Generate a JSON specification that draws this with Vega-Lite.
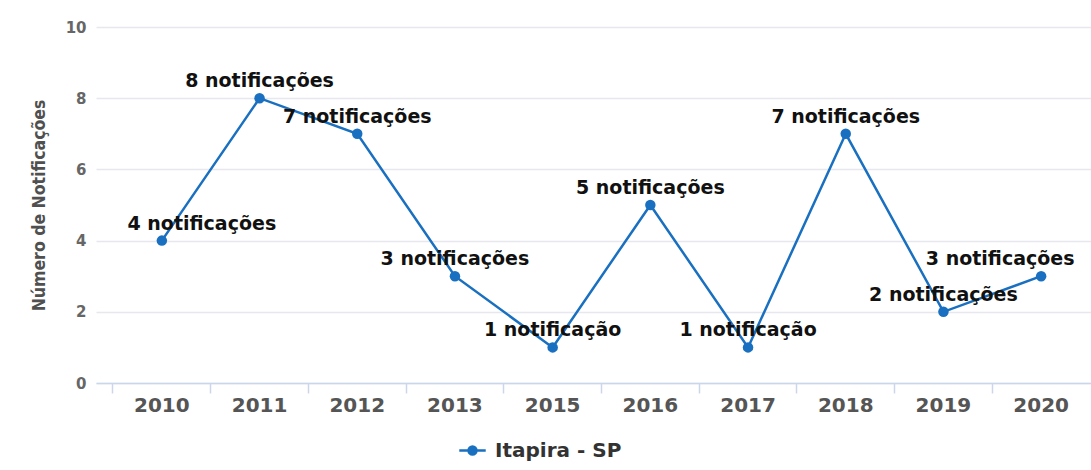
{
  "$schema": "https://vega.github.io/schema/vega-lite/v6.json",
  "autosize": "none",
  "width": 1011,
  "height": 356,
  "padding": {"left": 96, "top": 27, "right": 0, "bottom": 87},
  "background": "white",
  "config": {
    "view": {"stroke": null},
    "font": "DejaVu Sans"
  },
  "data": {
    "values": [
      {"ano": "2010", "valor": 4, "rotulo": "4 notificações"},
      {"ano": "2011", "valor": 8, "rotulo": "8 notificações"},
      {"ano": "2012", "valor": 7, "rotulo": "7 notificações"},
      {"ano": "2013", "valor": 3, "rotulo": "3 notificações"},
      {"ano": "2015", "valor": 1, "rotulo": "1 notificação"},
      {"ano": "2016", "valor": 5, "rotulo": "5 notificações"},
      {"ano": "2017", "valor": 1, "rotulo": "1 notificação"},
      {"ano": "2018", "valor": 7, "rotulo": "7 notificações"},
      {"ano": "2019", "valor": 2, "rotulo": "2 notificações"},
      {"ano": "2020", "valor": 3, "rotulo": "3 notificações"}
    ]
  },
  "encoding": {
    "y": {
      "field": "valor", "type": "quantitative",
      "scale": {"domain": [0, 10], "nice": false},
      "axis": {
        "values": [0, 2, 4, 6, 8, 10],
        "title": "Número de Notificações",
        "titleFont": "DejaVu Sans Condensed",
        "titleFontSize": 17.5,
        "titleFontWeight": "bold",
        "titleColor": "#505050",
        "titlePadding": 17,
        "labelFont": "DejaVu Sans",
        "labelFontSize": 15,
        "labelFontWeight": "bold",
        "labelColor": "#666666",
        "labelPadding": 10,
        "ticks": false,
        "domain": false,
        "grid": true,
        "gridColor": "#e6e8ee",
        "gridWidth": 1.5
      }
    }
  },
  "layer": [
    {
      "mark": {"type": "line", "strokeWidth": 2.5, "point": {"filled": true, "size": 110}},
      "encoding": {
        "x": {
          "field": "ano", "type": "nominal", "sort": null,
          "scale": {"type": "band", "paddingInner": 0, "paddingOuter": 0.174},
          "axis": {
            "title": null,
            "labelAngle": 0,
            "labelFont": "DejaVu Sans",
            "labelFontSize": 20,
            "labelFontWeight": "bold",
            "labelColor": "#555555",
            "labelPadding": 12,
            "ticks": false,
            "domain": false,
            "grid": false,
            "orient": "bottom"
          }
        },
        "color": {
          "datum": "Itapira - SP",
          "scale": {"range": ["#1a70c0"]},
          "legend": {
            "title": null,
            "orient": "none",
            "legendX": 362,
            "legendY": 409,
            "symbolType": "M-1,0L1,0M-0.3,0A0.3,0.3 0 1 1 0.3,0A0.3,0.3 0 1 1 -0.3,0",
            "symbolSize": 700,
            "symbolStrokeWidth": 2.5,
            "symbolFillColor": "#1a70c0",
            "labelFont": "DejaVu Sans",
            "labelFontSize": 20,
            "labelFontWeight": "bold",
            "labelColor": "#333333",
            "labelOffset": 8
          }
        }
      }
    },
    {
      "transform": [{"filter": "datum.ano != '2010' && datum.ano != '2020'"}],
      "mark": {"type": "text", "dy": -17, "fontSize": 19, "fontWeight": "bold", "font": "DejaVu Sans", "color": "#111111", "baseline": "middle"},
      "encoding": {
        "x": {
          "field": "ano", "type": "nominal", "sort": null,
          "scale": {"type": "band", "paddingInner": 0, "paddingOuter": 0.174},
          "axis": {
            "title": null,
            "labels": false,
            "ticks": true,
            "tickColor": "#ccd6eb",
            "tickSize": 10,
            "tickWidth": 1.5,
            "bandPosition": 0,
            "domain": true,
            "domainColor": "#ccd6eb",
            "domainWidth": 1.5,
            "grid": false,
            "orient": "bottom"
          }
        },
        "text": {"field": "rotulo"}
      }
    },
    {
      "transform": [{"filter": "datum.ano == '2010'"}],
      "mark": {"type": "text", "dy": -17, "dx": 40, "fontSize": 19, "fontWeight": "bold", "font": "DejaVu Sans", "color": "#111111", "baseline": "middle"},
      "encoding": {
        "x": {"field": "ano", "type": "nominal", "sort": null, "axis": null},
        "text": {"field": "rotulo"}
      }
    },
    {
      "transform": [{"filter": "datum.ano == '2020'"}],
      "mark": {"type": "text", "dy": -17, "dx": -41, "fontSize": 19, "fontWeight": "bold", "font": "DejaVu Sans", "color": "#111111", "baseline": "middle"},
      "encoding": {
        "x": {"field": "ano", "type": "nominal", "sort": null, "axis": null},
        "text": {"field": "rotulo"}
      }
    }
  ],
  "resolve": {"axis": {"x": "independent"}}
}
